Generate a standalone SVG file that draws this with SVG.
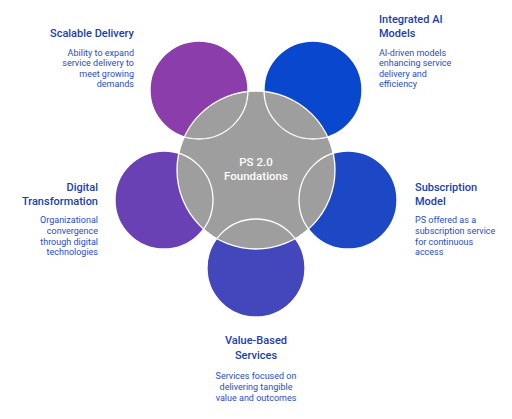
<svg xmlns="http://www.w3.org/2000/svg" width="512" height="419" viewBox="0 0 512 419">
<style>
.t{font-family:Roboto,"Liberation Sans",sans-serif;font-weight:500;font-size:11px;fill:#1c3dac}
.b{font-family:Roboto,"Liberation Sans",sans-serif;font-size:9px;fill:#2a4bc8}
.c{font-family:Roboto,"Liberation Sans",sans-serif;font-weight:500;font-size:11.5px;fill:#ffffff;text-anchor:middle}
.ol{fill:none;stroke:#ffffff;stroke-width:1.3}
.r{text-anchor:end}
.m{text-anchor:middle}
</style>
<rect width="512" height="419" fill="#ffffff"/>
<g id="scalable-delivery">
<circle cx="199" cy="90" r="49" fill="#8a3dab"/>
<text class="t r" x="134" y="37">Scalable Delivery</text>
<text class="b r" x="134" y="56">Ability to expand</text>
<text class="b r" x="134" y="66">service delivery to</text>
<text class="b r" x="134" y="76.5">meet growing</text>
<text class="b r" x="134" y="87">demands</text>
</g>
<g id="integrated-ai">
<circle cx="313" cy="90" r="49" fill="#0a47cf"/>
<text class="t" x="379" y="23">Integrated AI</text>
<text class="t" x="379" y="37">Models</text>
<text class="b" x="379" y="56">AI-driven models</text>
<text class="b" x="379" y="66">enhancing service</text>
<text class="b" x="379" y="76.5">delivery and</text>
<text class="b" x="379" y="87">efficiency</text>
</g>
<g id="digital-transformation">
<circle cx="164" cy="200" r="49" fill="#6a40b5"/>
<text class="t r" x="98" y="191">Digital</text>
<text class="t r" x="98" y="205">Transformation</text>
<text class="b r" x="98" y="223">Organizational</text>
<text class="b r" x="98" y="234">convergence</text>
<text class="b r" x="98" y="244.5">through digital</text>
<text class="b r" x="98" y="255">technologies</text>
</g>
<g id="subscription-model">
<circle cx="348" cy="200" r="49" fill="#1c48c6"/>
<text class="t" x="415" y="191">Subscription</text>
<text class="t" x="415" y="205">Model</text>
<text class="b" x="415" y="223">PS offered as a</text>
<text class="b" x="415" y="234">subscription service</text>
<text class="b" x="415" y="244.5">for continuous</text>
<text class="b" x="415" y="255">access</text>
</g>
<g id="value-based">
<circle cx="256" cy="268" r="49" fill="#4347bb"/>
<text class="t m" x="256" y="344">Value-Based</text>
<text class="t m" x="256" y="359">Services</text>
<text class="b m" x="256" y="379">Services focused on</text>
<text class="b m" x="256" y="390">delivering tangible</text>
<text class="b m" x="256" y="400.5">value and outcomes</text>
</g>
<g id="ps-foundations">
<circle cx="256" cy="170" r="79" fill="#9e9e9e" stroke="#ffffff" stroke-width="1.3"/>
<text class="c" x="256" y="166">PS 2.0</text>
<text class="c" x="256" y="180">Foundations</text>
</g>
<g id="connectors">
<circle class="ol" cx="199" cy="90" r="49"/>
<circle class="ol" cx="313" cy="90" r="49"/>
<circle class="ol" cx="164" cy="200" r="49"/>
<circle class="ol" cx="348" cy="200" r="49"/>
<circle class="ol" cx="256" cy="268" r="49"/>
</g>
</svg>
